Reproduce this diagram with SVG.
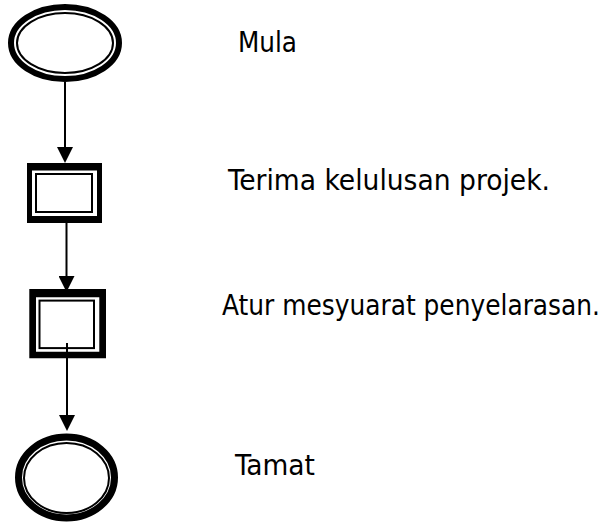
<svg xmlns="http://www.w3.org/2000/svg" width="612" height="523" viewBox="0 0 612 523">
  <defs>
    <marker id="arrow" markerUnits="userSpaceOnUse" markerWidth="16" markerHeight="16" refX="0" refY="8" orient="auto">
      <path d="M0,0 L16,8 L0,16 z" fill="#000"/>
    </marker>
  </defs>
  <style>
    .bg { fill: #fff; }
    .thick { fill: none; stroke: #000; }
    .thin { fill: none; stroke: #000; stroke-width: 2; }
    .band { fill: #000; fill-rule: evenodd; }
    .conn { fill: none; stroke: #000; stroke-width: 2; }
    .label { font-family: "DejaVu Sans Condensed", "DejaVu Sans", sans-serif; font-size: 29px; fill: #000; }
    .label.long { font-size: 28px; }
  </style>
  <rect class="bg" x="0" y="0" width="612" height="523"/>

  <g id="connectors">
    <path class="conn" d="M65,82 L65,147" marker-end="url(#arrow)"/>
    <path class="conn" d="M66.5,223 L66.5,276" marker-end="url(#arrow)"/>
    <path class="conn" d="M67,343 L67,415" marker-end="url(#arrow)"/>
  </g>

  <g id="node-mula">
    <ellipse class="thick" cx="65" cy="43" rx="54" ry="36" stroke-width="6"/>
    <ellipse class="thin" cx="65" cy="43" rx="48" ry="30" stroke-width="1.8"/>
  </g>

  <g id="node-terima">
    <path class="band" d="M27,163 H102 V223 H27 Z M32,170.5 V216 H97 V170.5 Z"/>
    <rect class="thin" x="36" y="174" width="56" height="38" stroke-width="2.4"/>
  </g>

  <g id="node-atur">
    <path class="band" d="M29.3,289 H106 V358.3 H29.3 Z M36,297.3 V351.7 H99.3 V297.3 Z"/>
    <rect class="thin" x="39.5" y="300.6" width="54.5" height="47.5" stroke-width="2.5"/>
    <path class="conn" d="M67,343 L67,349"/>
  </g>

  <g id="node-tamat">
    <ellipse class="thick" cx="66.5" cy="477.5" rx="48" ry="40.5" stroke-width="7"/>
    <ellipse class="thin" cx="66.5" cy="478" rx="42.5" ry="35" stroke-width="1.8"/>
  </g>

  <g id="labels">
    <text class="label" x="238" y="52" textLength="59" lengthAdjust="spacingAndGlyphs">Mula</text>
    <text class="label" x="228" y="190" textLength="322" lengthAdjust="spacingAndGlyphs">Terima kelulusan projek.</text>
    <text class="label long" x="222" y="315" textLength="378" lengthAdjust="spacingAndGlyphs">Atur mesyuarat penyelarasan.</text>
    <text class="label" x="235" y="475" textLength="80" lengthAdjust="spacingAndGlyphs">Tamat</text>
  </g>
</svg>
